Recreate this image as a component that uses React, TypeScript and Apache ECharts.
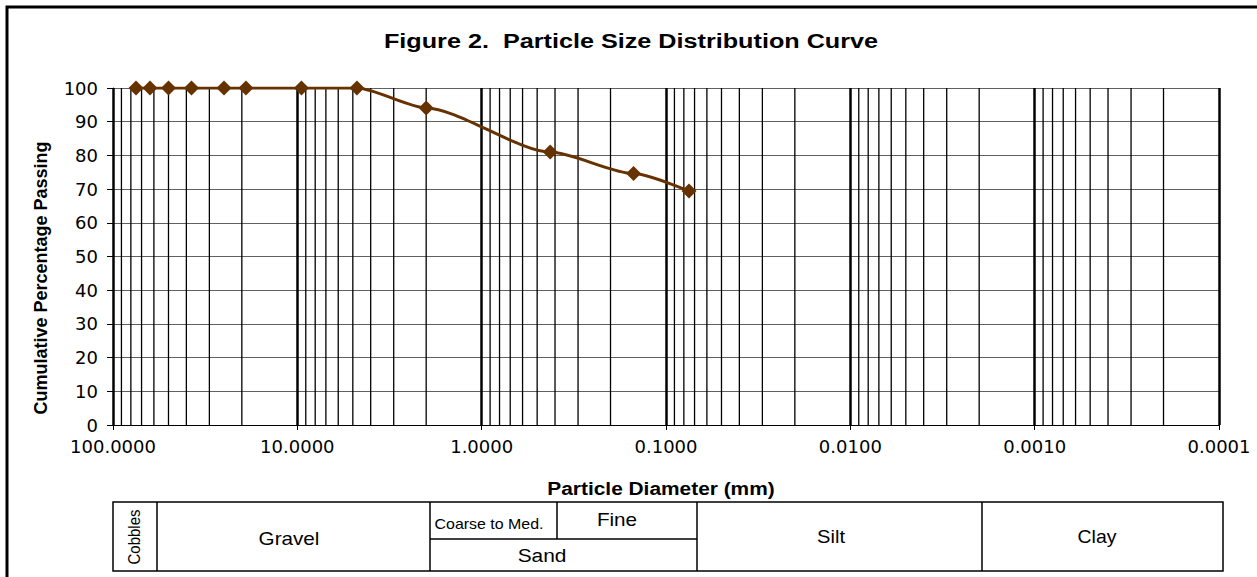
import React, { useEffect, useRef } from "react";
import * as echarts from "echarts";

// Sieve sizes (mm) and cumulative percentage passing
const sizesMm = [75, 63, 50, 37.5, 25, 19, 9.5, 4.75, 2.0, 0.425, 0.15, 0.075];
const percentPassing = [100, 100, 100, 100, 100, 100, 100, 100, 94.1, 81.0, 74.6, 69.4];

// Axis structure
const xMin = 0.0001;
const xMax = 100;
const decadeExponents = [-4, -3, -2, -1, 0, 1];
const minorMultipliers = [2, 3, 4, 5, 6, 7, 8, 9];
const yTicks = [0, 10, 20, 30, 40, 50, 60, 70, 80, 90, 100];

// Texts
const titleText = "Figure 2.  Particle Size Distribution Curve";
const xName = "Particle Diameter (mm)";
const yName = "Cumulative Percentage Passing";
const tableLabels = {
  cobbles: "Cobbles",
  gravel: "Gravel",
  coarse: "Coarse to Med.",
  fine: "Fine",
  sand: "Sand",
  silt: "Silt",
  clay: "Clay",
};

const FONT = "'Liberation Sans', Arial, Helvetica, sans-serif";
const TICK_FONT = "'DejaVu Sans', 'Liberation Sans', sans-serif";

export default function App() {
  const ref = useRef<HTMLDivElement>(null);

  useEffect(() => {
    if (!ref.current) return;
    const chart = echarts.init(ref.current, undefined, { renderer: "svg" });

    const minorValues: number[] = [];
    decadeExponents.forEach((e) => {
      minorMultipliers.forEach((m) => {
        minorValues.push(parseFloat((m * Math.pow(10, e)).toPrecision(6)));
      });
    });
    const minorLineData: any[] = [];
    minorValues.forEach((v) => {
      minorLineData.push([v, 0], [v, 100], [v, "-"]);
    });

    const lineData = sizesMm.map((s, i) => [s, percentPassing[i]]);

    const L = 113, R = 1223, T = 502, B = 571, MID = 539;
    const xC1 = 157, xC2 = 430, xC3 = 697, xC4 = 982, xCF = 557;
    const lineStyle = { stroke: "#000", lineWidth: 1.5 };

    const txt = (
      text: string,
      x: number,
      y: number,
      size: number,
      extra: any = {},
      weight: string = "normal"
    ) => ({
      type: "text",
      x,
      y,
      silent: true,
      z: 10,
      ...extra,
      style: {
        text,
        fill: "#000",
        fontSize: size,
        fontWeight: weight,
        fontFamily: FONT,
        textAlign: "center",
        textVerticalAlign: "middle",
      },
    });

    const option: any = {
      animation: false,
      backgroundColor: "#fff",
      grid: { left: 113, right: 38, top: 88, bottom: 152, containLabel: false },
      xAxis: {
        type: "log",
        logBase: 10,
        min: xMin,
        max: xMax,
        inverse: true,
        axisLine: { show: true, lineStyle: { color: "#000", width: 1 } },
        axisTick: { show: true, length: 5, lineStyle: { color: "#000" } },
        axisLabel: {
          fontFamily: TICK_FONT,
          fontSize: 18,
          color: "#000",
          margin: 12,
          showMinLabel: true,
          showMaxLabel: true,
          formatter: (v: number) => v.toFixed(4),
        },
        splitLine: { show: true, lineStyle: { color: "#000", width: 2.5 } },
      },
      yAxis: {
        type: "value",
        min: 0,
        max: 100,
        interval: 10,
        axisLine: { show: true, lineStyle: { color: "#000", width: 1 } },
        axisTick: { show: true, length: 6, lineStyle: { color: "#000" } },
        axisLabel: {
          fontFamily: TICK_FONT,
          fontSize: 18,
          color: "#000",
          margin: 15,
          formatter: (v: number) => (yTicks.includes(v) ? String(v) : ""),
        },
        splitLine: { show: true, lineStyle: { color: "#606060", width: 1 } },
      },
      series: [
        {
          type: "line",
          name: "minor",
          data: minorLineData,
          connectNulls: false,
          showSymbol: false,
          symbol: "none",
          silent: true,
          lineStyle: { color: "#000", width: 1.3 },
          z: 1,
        },
        {
          type: "line",
          name: "passing",
          data: lineData,
          smooth: 0.25,
          smoothMonotone: "x",
          symbol: "diamond",
          symbolSize: 15,
          itemStyle: { color: "#663300" },
          lineStyle: { color: "#663300", width: 3 },
          z: 5,
        },
      ],
      graphic: [
        {
          type: "rect",
          shape: { x: 7, y: 7, width: 1320, height: 620 },
          style: { fill: "none", stroke: "#000", lineWidth: 3 },
          silent: true,
        },
        txt(titleText, 631, 41, 21, { scaleX: 1.2 }, "bold"),
        txt(xName, 661, 489, 18, { scaleX: 1.16 }, "bold"),
        txt(yName, 41, 278, 18, { rotation: Math.PI / 2 }, "bold"),
        {
          type: "rect",
          shape: { x: L, y: T, width: R - L, height: B - T },
          style: { fill: "none", ...lineStyle },
          silent: true,
        },
        { type: "line", shape: { x1: xC1, y1: T, x2: xC1, y2: B }, style: lineStyle, silent: true },
        { type: "line", shape: { x1: xC2, y1: T, x2: xC2, y2: B }, style: lineStyle, silent: true },
        { type: "line", shape: { x1: xC3, y1: T, x2: xC3, y2: B }, style: lineStyle, silent: true },
        { type: "line", shape: { x1: xC4, y1: T, x2: xC4, y2: B }, style: lineStyle, silent: true },
        { type: "line", shape: { x1: xCF, y1: T, x2: xCF, y2: MID }, style: lineStyle, silent: true },
        { type: "line", shape: { x1: xC2, y1: MID, x2: xC3, y2: MID }, style: lineStyle, silent: true },
        txt(tableLabels.cobbles, 134, 537, 15, { rotation: Math.PI / 2, scaleY: 1.15 }),
        txt(tableLabels.gravel, 289, 539, 18, { scaleX: 1.15 }),
        txt(tableLabels.coarse, 489, 524, 14, { scaleX: 1.14 }),
        txt(tableLabels.fine, 617, 520, 18, { scaleX: 1.15 }),
        txt(tableLabels.sand, 542, 556, 18, { scaleX: 1.16 }),
        txt(tableLabels.silt, 831, 537, 18, { scaleX: 1.12 }),
        txt(tableLabels.clay, 1097, 537, 18, { scaleX: 1.08 }),
      ],
    };

    chart.setOption(option);
    return () => chart.dispose();
  }, []);

  return (
    <div
      ref={ref}
      style={{ position: "fixed", left: 0, top: 0, width: 1257, height: 577, background: "#fff" }}
    />
  );
}
